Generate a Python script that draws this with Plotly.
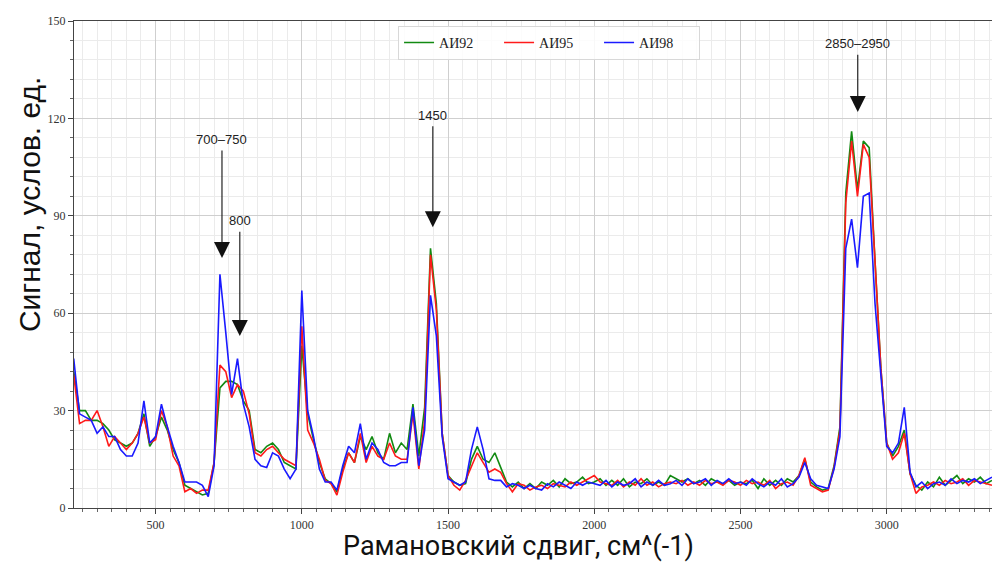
import plotly.graph_objects as go

# Raman shift axis (cm^-1), sampled every 20
x_shift = list(range(220, 3361, 20))

ai92 = [42, 30, 30, 27, 27, 26, 24, 21, 20, 19,
        20, 23, 29, 19, 22, 28, 24, 18, 14, 7,
        6, 5, 4, 4.5, 14, 37, 39, 39, 38, 33,
        30, 18, 17, 19, 20, 18, 14, 13, 12, 50,
        29, 21, 14, 9, 7.5, 5, 12, 17, 14, 22,
        18, 22, 17, 15, 23, 17, 20, 18, 32, 16,
        31, 80, 63, 23, 10, 8, 7, 7.5, 15, 19,
        15, 14, 17, 12.5, 8, 6.5, 8, 6, 7.5, 6,
        8, 7, 8.5, 6.5, 9, 7.5, 8, 9.5, 7.5, 8,
        9, 7, 8.5, 7, 9, 6.5, 8, 7.5, 9, 7,
        8, 7, 10, 9, 8, 9, 7.5, 8.5, 7, 9,
        8, 7.5, 8.5, 7, 8, 7.5, 8.5, 6, 9, 7,
        8.5, 7, 9, 8, 10, 15, 8, 6.5, 5.5, 6,
        13, 25, 97, 116, 98, 113, 111, 76, 43, 20,
        16, 19, 24, 10.5, 7, 5.5, 8, 6.5, 9.5, 7,
        8.5, 10, 7.5, 9, 8, 9.5, 7.5, 8.5]

ai95 = [41, 26, 27, 27, 30, 25, 19, 22, 20, 18,
        20, 23, 28, 20, 21, 30, 25, 16, 13, 5,
        6, 4.5, 5.5, 5.5, 14, 44, 42, 34, 38, 36,
        29, 17, 16, 18, 19, 17, 15, 14, 13, 56,
        24, 20, 15, 8.5, 7.5, 4, 11, 17, 14, 23,
        14, 19, 16, 15, 20, 16, 15, 15, 29, 12,
        27, 78, 61, 23, 10, 7, 5.5, 8.5, 13, 17,
        14, 11, 12, 11, 7.5, 5, 7.5, 7, 5.5, 6.5,
        7, 6, 7.5, 7, 6.5, 8, 7, 8, 9, 10,
        8, 7.5, 7, 8.5, 6.5, 8, 7, 9, 7, 8,
        6.5, 7.5, 8, 7.5, 8.5, 7, 8, 7, 8.5, 7.5,
        8, 7, 8.5, 8, 7, 8.5, 7.5, 8, 7, 8.5,
        6, 7.5, 8, 7, 10, 15.5, 7, 6, 5, 5.5,
        12.5, 24, 94, 113, 96, 112, 108, 76, 43, 20,
        15, 17, 23, 10.5, 4.5, 6.5, 7, 8, 7, 8.5,
        7.5, 8, 9, 7, 8.5, 8, 7.5, 7]

ai98 = [46, 29, 28, 27, 23, 25, 22, 22, 18, 16,
        16, 20, 33, 20, 22, 32, 25, 19, 14, 8,
        8, 8, 7, 3.5, 13, 72, 54, 35, 46, 32,
        25, 15, 13, 12.5, 17, 16, 12, 9, 12, 67,
        30, 22, 12, 8, 8, 5.5, 13, 19, 17, 26,
        15, 20, 18, 14, 13, 13, 14, 14, 31, 13,
        24, 65.5, 53, 22, 9, 8, 7, 8, 18, 25,
        18, 9, 8.5, 8.5, 6.5, 7.5, 7, 6, 7, 6,
        5.5, 7.5, 6.5, 8, 7, 6, 8, 7, 8, 7.5,
        7, 8.5, 6.5, 8, 7, 7.5, 9, 6.5, 8, 7,
        8.5, 7, 7.5, 8.5, 7, 9, 7.5, 8, 9, 7,
        8.5, 7.5, 9, 7.5, 8, 7, 9, 7.5, 6.5, 8,
        7, 9, 6.5, 7.5, 9.5, 14, 9, 7, 6.5, 6,
        12, 22, 80, 89, 74, 96, 97, 63, 41, 19,
        17, 20, 31, 11, 6.5, 8, 6, 7.5, 8, 7,
        9, 7.5, 8.5, 8, 9, 7.5, 8.5, 9.5]

series_names = ["АИ92", "АИ95", "АИ98"]
series_colors = ["#128a12", "#ff1a1a", "#1a1aff"]

# Peak annotations: label, arrow tip (x, y), label position (x, y)
ann_labels = ["700–750", "800", "1450", "2850–2950"]
ann_tip_x = [727, 788, 1448, 2901]
ann_tip_y = [77, 53, 86.5, 122]
ann_txt_y = [113.5, 88.5, 121, 143]

fig = go.Figure()
for name, ys, col in zip(series_names, [ai92, ai95, ai98], series_colors):
    fig.add_trace(go.Scatter(x=x_shift, y=ys, mode="lines", name=name,
                             line=dict(color=col, width=1.6)))

for lab, tx, ty, ly in zip(ann_labels, ann_tip_x, ann_tip_y, ann_txt_y):
    fig.add_annotation(x=tx, y=ty, xref="x", yref="y", ax=tx, ay=ly,
                       axref="x", ayref="y", text=lab, showarrow=True,
                       arrowhead=2, arrowsize=2.9, arrowwidth=1.1,
                       arrowcolor="#111111", standoff=0, startstandoff=2,
                       font=dict(family="Liberation Sans, Arial", size=13, color="#222222"))

# Axis titles as annotations
fig.add_annotation(text="Сигнал, услов. ед.", xref="paper", yref="paper",
                   x=-0.049, y=0.622, xanchor="center", yanchor="middle",
                   textangle=-90, showarrow=False,
                   font=dict(family="Liberation Sans, Arial", size=30, color="#111111"))
fig.add_annotation(text="Рамановский сдвиг, см^(-1)", xref="paper", yref="paper",
                   x=0.4837, y=-0.1129, showarrow=False, xanchor="center", yanchor="bottom",
                   borderpad=0,
                   font=dict(family="Roboto", size=27, color="#111111"))

tickfont = dict(family="Liberation Serif, Times New Roman", size=12, color="#333333")

fig.update_layout(
    width=992, height=563,
    margin=dict(l=74, r=0, t=21, b=55),
    paper_bgcolor="white", plot_bgcolor="white",
    showlegend=True,
    legend=dict(orientation="h", x=0.353, y=0.99, xanchor="left", yanchor="top",
                bgcolor="rgba(255,255,255,0.85)", bordercolor="#d8d8d8", borderwidth=1,
                font=dict(family="Liberation Serif, Times New Roman", size=14, color="#222222"),
                entrywidth=55, entrywidthmode="pixels", itemwidth=30),
    xaxis=dict(range=[221, 3360], dtick=500, tick0=0, showgrid=True,
               gridcolor="#cfcfcf", gridwidth=1, zeroline=False,
               showline=True, linecolor="#444444", linewidth=1.2, mirror=True,
               ticks="outside", ticklen=5, tickcolor="#444444", tickfont=tickfont,
               minor=dict(dtick=50, tick0=0, showgrid=True, gridcolor="#ebebeb",
                          ticks="outside", ticklen=3, tickcolor="#666666")),
    yaxis=dict(range=[0, 150], dtick=30, tick0=0, showgrid=True,
               gridcolor="#cfcfcf", gridwidth=1, zeroline=False,
               showline=True, linecolor="#444444", linewidth=1.2, mirror=False,
               ticks="outside", ticklen=5, tickcolor="#444444", tickfont=tickfont,
               minor=dict(dtick=6, tick0=0, showgrid=True, gridcolor="#ebebeb",
                          ticks="outside", ticklen=3, tickcolor="#666666")),
)

fig.write_html("out.html")
